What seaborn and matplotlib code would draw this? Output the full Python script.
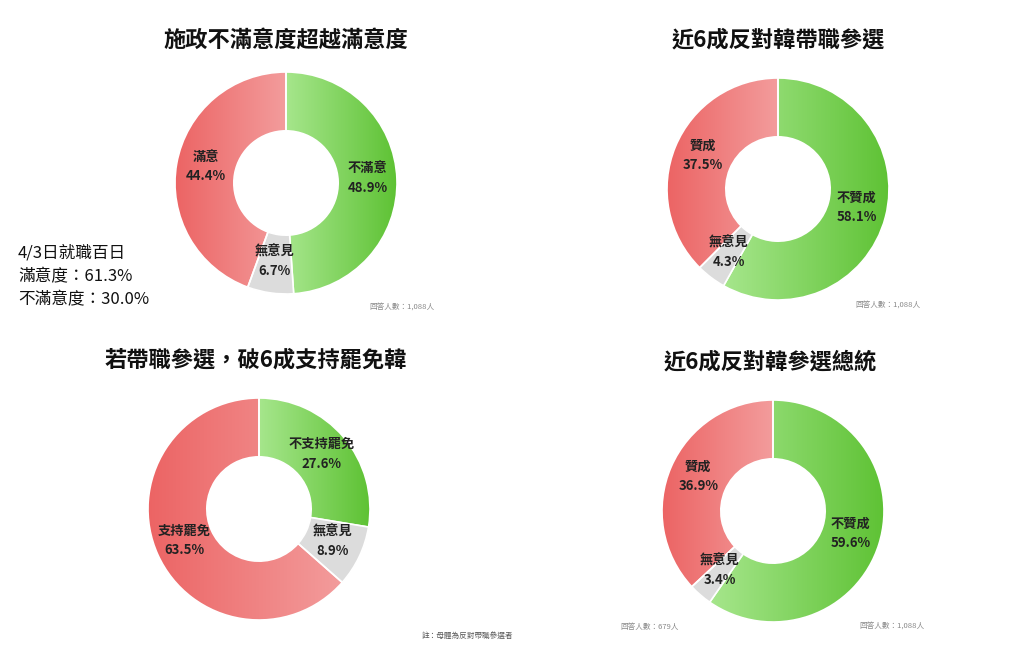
import matplotlib
matplotlib.use("Agg")
import matplotlib.pyplot as plt
import numpy as np
import seaborn as sns
from matplotlib.colors import LinearSegmentedColormap

sns.set_theme(style="white")
plt.rcParams['font.family'] = ['Noto Sans CJK TC', 'DejaVu Sans']

titles = ["施政不滿意度超越滿意度", "近6成反對韓帶職參選",
          "若帶職參選，破6成支持罷免韓", "近6成反對韓參選總統"]
labels = [["不滿意", "無意見", "滿意"],
          ["不贊成", "無意見", "贊成"],
          ["不支持罷免", "無意見", "支持罷免"],
          ["不贊成", "無意見", "贊成"]]
values = [[48.9, 6.7, 44.4],
          [58.1, 4.3, 37.5],
          [27.6, 8.9, 63.5],
          [59.6, 3.4, 36.9]]
notes = ["回答人數：1,088人", "回答人數：1,088人", "回答人數：679人", "回答人數：1,088人"]

centers = [(286, 183), (778, 189), (259, 509), (773, 511)]
title_pos = [(286, 40), (778, 40), (256, 360), (770, 362)]
note_pos = [(435, 307), (920, 305), (679, 627), (925, 626)]

W, H = 1024, 646
fig = plt.figure(figsize=(W / 100, H / 100), dpi=100)

cmaps = [LinearSegmentedColormap.from_list("g", ["#a6e68c", "#5ec234"]),
         None,
         LinearSegmentedColormap.from_list("r", ["#ec6464", "#f39c9c"])]

R = 111
for i in range(4):
    cx, cy = centers[i]
    half = 122
    ax = fig.add_axes([(cx - half) / W, 1 - (cy + half) / H, 2 * half / W, 2 * half / H])
    wedges, _ = ax.pie(values[i], startangle=90, counterclock=False, radius=1,
                       colors=["#5ec234", "#dcdcdc", "#ef7c7c"],
                       wedgeprops=dict(width=0.53, edgecolor="white", linewidth=1.2))
    lim = half / R
    ax.set_xlim(-lim, lim)
    ax.set_ylim(-lim, lim)
    ax.set_aspect("equal")
    ax.axis("off")
    for k, w in enumerate(wedges):
        if cmaps[k] is not None:
            w.set_facecolor("none")
            ext = w.get_path().get_extents()
            grad = np.linspace(0, 1, 256).reshape(1, -1)
            im = ax.imshow(grad, cmap=cmaps[k], aspect="auto",
                           extent=[ext.x0, ext.x1, ext.y0, ext.y1], zorder=0.5)
            im.set_clip_path(w)
        ang = np.deg2rad((w.theta1 + w.theta2) / 2)
        rr = 0.735
        ax.text(rr * np.cos(ang), rr * np.sin(ang) + 0.02,
                f"{labels[i][k]}\n{values[i][k]}%", ha="center", va="center",
                fontsize=9.5, fontweight="bold", color="#222222", linespacing=1.5)
    ax.set_xlim(-lim, lim)
    ax.set_ylim(-lim, lim)

    tx, ty = title_pos[i]
    fig.text(tx / W, 1 - ty / H, titles[i], ha="center", va="center",
             fontsize=16, fontweight="bold", color="#111111")
    nx, ny = note_pos[i]
    fig.text(nx / W, 1 - ny / H, notes[i], ha="right", va="center",
             fontsize=5.5, color="#888888")

side = ["4/3日就職百日", "滿意度：61.3%", "不滿意度：30.0%"]
for j, s in enumerate(side):
    fig.text(18 / W, 1 - (253 + j * 23.5) / H, s, ha="left", va="center",
             fontsize=12, color="#111111")

fig.text(467 / W, 1 - 636 / H, "註：母體為反對帶職參選者", ha="center", va="center",
         fontsize=5.5, color="#555555")

fig.savefig("out.png", dpi=100, facecolor="white")
